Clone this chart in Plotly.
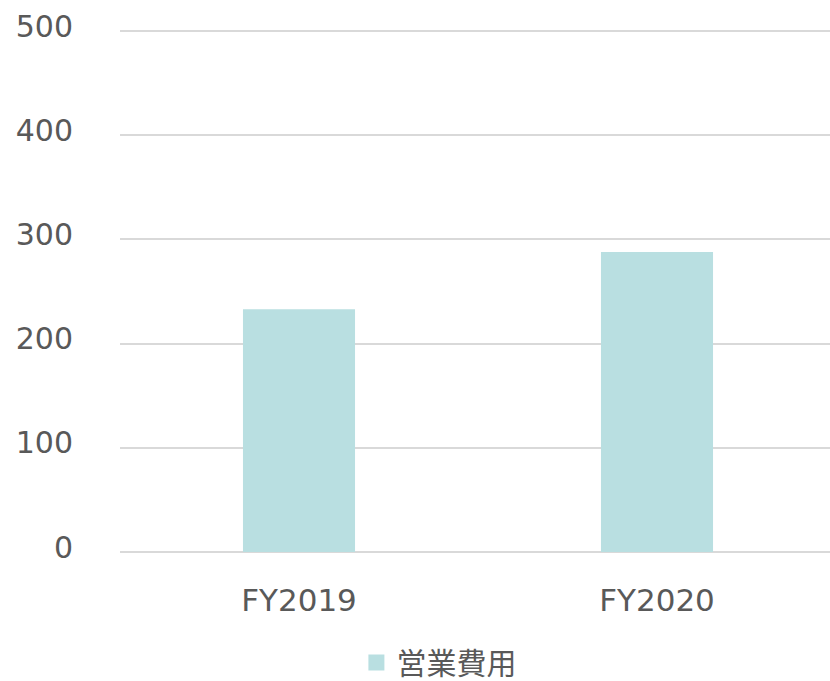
import plotly.graph_objects as go

categories = ["FY2019", "FY2020"]
operating_expenses = [233, 288]
series_name = "営業費用"
bar_color = "#b9dfe1"
text_color = "#595959"
grid_color = "#d9d9d9"

fig = go.Figure()

fig.add_trace(go.Bar(
    x=categories,
    y=operating_expenses,
    name=series_name,
    width=0.313,
    marker=dict(color=bar_color, line=dict(width=0)),
    showlegend=False,
))

# legend-only entry so the swatch can be drawn larger than the default bar swatch
fig.add_trace(go.Scatter(
    x=[None],
    y=[None],
    mode="markers",
    name=series_name,
    marker=dict(symbol="square", size=21, color=bar_color),
))

# plot area runs slightly past the right edge of the window, like the source
fig.update_layout(
    width=836,
    height=681,
    margin=dict(l=120, r=0, t=29, b=129, autoexpand=False),
    paper_bgcolor="white",
    plot_bgcolor="white",
    font=dict(family="DejaVu Sans, Noto Sans CJK JP", color=text_color, size=30),
    legend=dict(
        orientation="h",
        xref="container",
        yref="container",
        x=0.525,
        y=0.027,
        xanchor="center",
        yanchor="middle",
        font=dict(family="Noto Sans CJK JP", size=30, color=text_color),
        itemwidth=30,
    ),
)

fig.update_xaxes(
    showgrid=False,
    showline=False,
    ticks="",
    ticklabelstandoff=27,
    tickfont=dict(size=31),
    automargin=False,
)

fig.update_yaxes(
    range=[0, 502],
    tickvals=[0, 100, 200, 300, 400, 500],
    showgrid=True,
    gridcolor=grid_color,
    gridwidth=2,
    zeroline=True,
    zerolinecolor=grid_color,
    zerolinewidth=2,
    showline=False,
    ticks="",
    ticklabelstandoff=46,
    ticklabelshift=-5,
    automargin=False,
)

# drop the default page margin so the figure sits at the window's corner
fig.write_html(
    "out.html",
    config={"displayModeBar": False},
    post_script="document.body.style.margin='0';document.body.style.overflow='hidden';",
)
